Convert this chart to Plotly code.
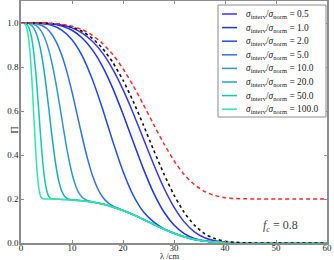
import plotly.graph_objects as go

# ---- data ----
ratios = ["0.5", "1.0", "2.0", "5.0", "10.0", "20.0", "50.0", "100.0"]
colors = ["#3535ff", "#1a33f5", "#1a4cf0", "#2f72e6", "#3394d6", "#1aa8c2", "#14c8b0", "#2ee8a6"]

lam_coarse = [0, 2, 4, 6, 8, 10, 12, 14, 16, 18, 20, 22, 24, 26, 28, 30, 32, 34, 36, 38, 40, 42, 44, 46, 50, 55, 60]

dotted_y = [1.000, 1.000, 1.000, 0.998, 0.992, 0.981, 0.962, 0.930, 0.884, 0.821, 0.740, 0.644, 0.536,
            0.423, 0.315, 0.218, 0.139, 0.081, 0.042, 0.020, 0.008, 0.003, 0.001, 0.0, 0.0, 0.0, 0.0]
red_y = [1.000, 1.000, 1.000, 0.998, 0.994, 0.985, 0.970, 0.944, 0.907, 0.857, 0.792, 0.715, 0.629,
         0.539, 0.452, 0.374, 0.311, 0.265, 0.234, 0.216, 0.206, 0.202, 0.201, 0.200, 0.200, 0.200, 0.200]

r05_y = [1.000, 1.000, 0.999, 0.997, 0.991, 0.978, 0.954, 0.917, 0.863, 0.789, 0.697, 0.590, 0.474,
         0.358, 0.251, 0.163, 0.096, 0.051, 0.024, 0.010, 0.004, 0.001, 0.0003, 0.0, 0.0, 0.0, 0.0]
r1_y = [1.000, 1.000, 0.999, 0.996, 0.986, 0.967, 0.932, 0.878, 0.802, 0.703, 0.586, 0.460, 0.337,
        0.228, 0.142, 0.082, 0.043, 0.021, 0.010, 0.004, 0.002, 0.0006, 0.0, 0.0, 0.0, 0.0, 0.0]
r2_y = [1.000, 1.000, 0.998, 0.990, 0.968, 0.924, 0.851, 0.743, 0.609, 0.462, 0.326, 0.217, 0.142,
        0.096, 0.065, 0.044, 0.028, 0.016, 0.0085, 0.004, 0.0016, 0.0006, 0.0002, 0.0, 0.0, 0.0, 0.0]

r5_x = [0, 1, 2, 3, 4, 5, 6, 7, 8, 9, 10, 11, 12, 13, 14, 15, 16, 17, 18, 19, 20, 22, 24, 26, 28, 30,
        32, 34, 36, 38, 40, 42, 44, 46, 50, 55, 60]
r5_y = [1.000, 1.000, 0.999, 0.997, 0.990, 0.976, 0.950, 0.910, 0.853, 0.778, 0.687, 0.585, 0.482,
        0.387, 0.308, 0.249, 0.209, 0.184, 0.169, 0.158, 0.148, 0.129, 0.107, 0.085, 0.063, 0.044,
        0.028, 0.016, 0.0085, 0.004, 0.0016, 0.0006, 0.0002, 0.0, 0.0, 0.0, 0.0]

r10_x = [0, 0.5, 1, 1.5, 2, 2.5, 3, 3.5, 4, 4.5, 5, 5.5, 6, 6.5, 7, 7.5, 8, 8.5, 9, 9.5, 10, 10.5,
         11, 11.5, 12, 12.5, 13, 14, 15, 16, 18, 20, 22, 24, 26, 28, 30, 32, 34, 36, 38, 40, 42, 44,
         46, 50, 55, 60]
r10_y = [1.000, 1.000, 1.000, 0.999, 0.998, 0.994, 0.988, 0.977, 0.962, 0.940, 0.910, 0.872, 0.825,
         0.769, 0.706, 0.637, 0.566, 0.495, 0.427, 0.367, 0.316, 0.275, 0.244, 0.222, 0.208, 0.199,
         0.193, 0.187, 0.182, 0.177, 0.164, 0.148, 0.129, 0.107, 0.085, 0.063, 0.044, 0.028, 0.016,
         0.0085, 0.004, 0.0016, 0.0006, 0.0002, 0.0, 0.0, 0.0, 0.0]

r20_x = [0, 0.5, 1, 1.5, 2, 2.5, 3, 3.5, 4, 4.5, 5, 5.5, 6, 6.5, 7, 7.5, 8, 8.5, 9, 9.5, 10, 11, 12,
         14, 16, 18, 20, 22, 24, 26, 28, 30, 32, 34, 36, 38, 40, 42, 44, 46, 50, 55, 60]
r20_y = [1.000, 1.000, 0.999, 0.997, 0.990, 0.977, 0.952, 0.914, 0.859, 0.787, 0.699, 0.601, 0.500,
         0.407, 0.330, 0.272, 0.235, 0.214, 0.203, 0.199, 0.197, 0.195, 0.192, 0.186, 0.177, 0.164,
         0.148, 0.129, 0.107, 0.085, 0.063, 0.044, 0.028, 0.016, 0.0085, 0.004, 0.0016, 0.0006,
         0.0002, 0.0, 0.0, 0.0, 0.0]

r50_x = [0, 0.5, 1, 1.25, 1.5, 1.75, 2, 2.25, 2.5, 2.75, 3, 3.25, 3.5, 3.75, 4, 4.25, 4.5, 4.75, 5,
         5.25, 5.5, 5.75, 6, 6.5, 7, 8, 10, 12, 14, 16, 18, 20, 22, 24, 26, 28, 30, 32, 34, 36, 38,
         40, 42, 44, 46, 50, 55, 60]
r50_y = [1.000, 1.000, 0.996, 0.991, 0.981, 0.965, 0.942, 0.909, 0.866, 0.811, 0.747, 0.673, 0.595,
         0.515, 0.440, 0.372, 0.316, 0.273, 0.242, 0.222, 0.210, 0.204, 0.201, 0.200, 0.199, 0.198,
         0.196, 0.192, 0.186, 0.177, 0.164, 0.148, 0.129, 0.107, 0.085, 0.063, 0.044, 0.028, 0.016,
         0.0085, 0.004, 0.0016, 0.0006, 0.0002, 0.0, 0.0, 0.0, 0.0]

r100_x = [0, 0.5, 0.75, 1, 1.25, 1.5, 1.75, 2, 2.25, 2.5, 2.75, 3, 3.25, 3.5, 3.75, 4, 4.25, 4.5, 5,
          6, 7, 8, 10, 12, 14, 16, 18, 20, 22, 24, 26, 28, 30, 32, 34, 36, 38, 40, 42, 44, 46, 50,
          55, 60]
r100_y = [1.000, 0.999, 0.995, 0.985, 0.964, 0.927, 0.871, 0.792, 0.694, 0.584, 0.473, 0.374, 0.298,
          0.247, 0.219, 0.206, 0.202, 0.200, 0.200, 0.1995, 0.199, 0.198, 0.196, 0.192, 0.186, 0.177,
          0.164, 0.148, 0.129, 0.107, 0.085, 0.063, 0.044, 0.028, 0.016, 0.0085, 0.004, 0.0016,
          0.0006, 0.0002, 0.0, 0.0, 0.0, 0.0]

x_ticks = [0, 10, 20, 30, 40, 50, 60]
y_ticks = [0.0, 0.2, 0.4, 0.6, 0.8, 1.0]
f_c_label = "0.8"

series_x = [lam_coarse, lam_coarse, lam_coarse, r5_x, r10_x, r20_x, r50_x, r100_x]
series_y = [r05_y, r1_y, r2_y, r5_y, r10_y, r20_y, r50_y, r100_y]

SERIF = "Liberation Serif, DejaVu Serif, serif"
FRAME = "#8c8c8c"

# plot-area geometry in pixels (used only to place the hand-drawn legend)
W, H = 334, 260
ML, MR, MT, MB = 21, 7, 1, 17
PW, PH = W - ML - MR, H - MT - MB


def px_x(p):
    return (p - ML) / PW


def px_y(p):
    return (H - MB - p) / PH


fig = go.Figure()
for name, col, xs, ys in zip(ratios, colors, series_x, series_y):
    fig.add_trace(go.Scatter(
        x=xs, y=ys, mode="lines", showlegend=False,
        line=dict(color=col, width=1.5, shape="spline", smoothing=0.6),
        name="σ_interv/σ_norm = " + name,
    ))

fig.add_trace(go.Scatter(x=lam_coarse, y=dotted_y, mode="lines", showlegend=False,
                         line=dict(color="#111111", width=1.6, dash="dot", shape="spline", smoothing=0.6)))
fig.add_trace(go.Scatter(x=lam_coarse, y=red_y, mode="lines", showlegend=False,
                         line=dict(color="#ff2a2a", width=1.5, dash="4px,3px", shape="spline", smoothing=0.6)))

axis_common = dict(showgrid=False, zeroline=False, showline=True, linecolor=FRAME, linewidth=1.5,
                   mirror="ticks", ticks="inside", ticklen=3, tickcolor=FRAME, tickwidth=1,
                   automargin=False, tickfont=dict(family=SERIF, size=9, color="#222"))

fig.update_xaxes(range=[0, 60], tickvals=x_ticks, ticktext=[str(v) for v in x_ticks],
                 ticklabelstandoff=-5, **axis_common)
fig.update_yaxes(range=[0, 1.1], tickvals=y_ticks, ticktext=["%.1f" % v for v in y_ticks],
                 ticklabelstandoff=-1, **axis_common)

# hand-built legend (compact, like the reference)
shapes = [dict(type="rect", xref="paper", yref="paper", x0=px_x(218), x1=px_x(326),
               y0=px_y(117), y1=px_y(5), line=dict(color=FRAME, width=1), fillcolor="white",
               layer="above")]
annotations = []
for i, (name, col) in enumerate(zip(ratios, colors)):
    yc = 14 + 13.6 * i
    shapes.append(dict(type="line", xref="paper", yref="paper", x0=px_x(222), x1=px_x(237),
                       y0=px_y(yc), y1=px_y(yc), line=dict(color=col, width=1.5), layer="above"))
    annotations.append(dict(text="<i>σ</i><sub>interv</sub>/<i>σ</i><sub>norm</sub> = " + name,
                            xref="paper", yref="paper", x=px_x(244), y=px_y(yc + 0.5),
                            xanchor="left", yanchor="middle", showarrow=False,
                            font=dict(family=SERIF, size=9.4, color="#222")))

annotations += [
    dict(text="Π", xref="paper", yref="paper", x=px_x(6), y=px_y(130), showarrow=False,
         textangle=-90, font=dict(family=SERIF, size=10, color="#222")),
    dict(text="λ /cm", xref="paper", yref="paper", x=px_x(169), y=px_y(255.5), showarrow=False,
         yanchor="middle", font=dict(family=SERIF, size=8.5, color="#222")),
    dict(text="<i>f</i><sub><i>c</i></sub> = " + f_c_label, xref="paper", yref="paper",
         x=px_x(300), y=px_y(226), yanchor="middle", showarrow=False,
         font=dict(family=SERIF, size=12, color="#444")),
]

fig.update_layout(
    width=W, height=H,
    margin=dict(l=ML, r=MR, t=MT, b=MB),
    plot_bgcolor="white", paper_bgcolor="white",
    font=dict(family=SERIF, size=9, color="#222"),
    showlegend=False,
    shapes=shapes,
    annotations=annotations,
)

fig.write_html("out.html", config={"displayModeBar": False},
               post_script="document.body.style.margin='0';document.body.style.padding='0';"
                           "window.dispatchEvent(new Event('resize'));")
